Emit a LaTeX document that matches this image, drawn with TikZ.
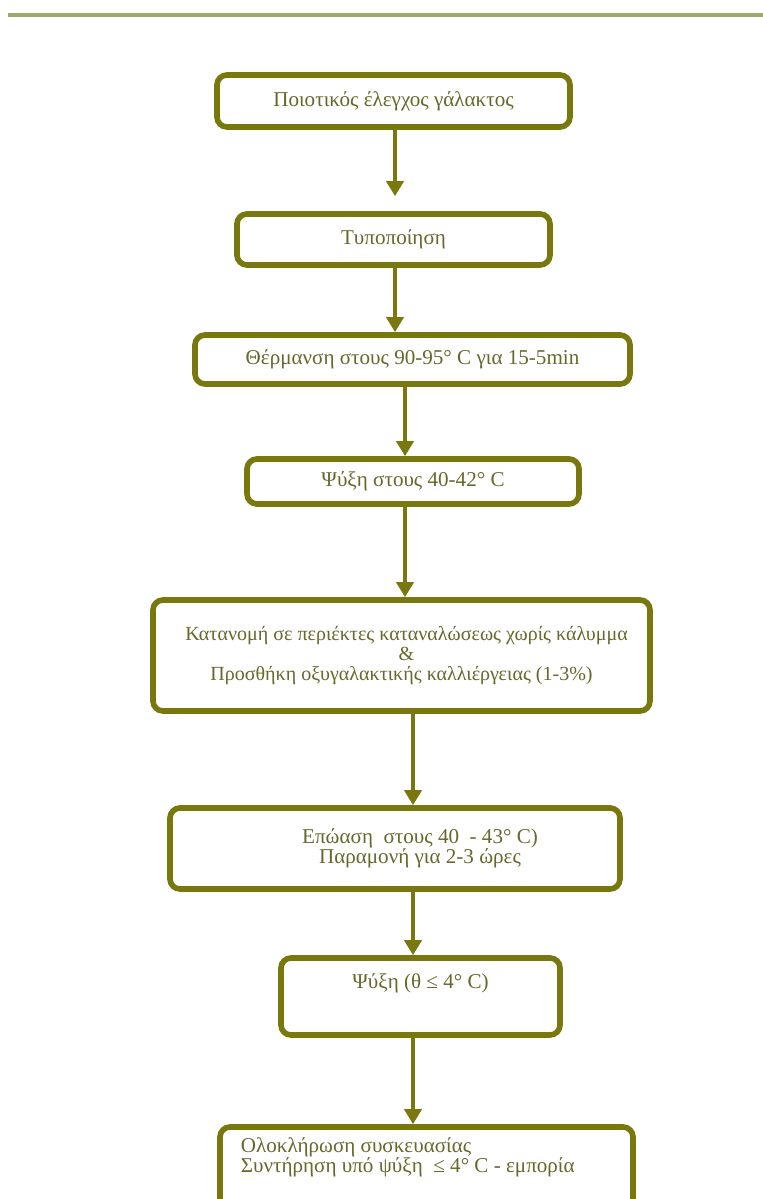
\documentclass[tikz,border=0pt]{standalone}
\usepackage{fontspec}
\setmainfont{Liberation Serif}
\usetikzlibrary{arrows.meta}
\definecolor{olivebox}{RGB}{120,120,14}
\definecolor{olivetext}{RGB}{104,104,44}
\definecolor{oliverule}{RGB}{156,172,104}

\begin{document}
\begin{tikzpicture}[
    stage/.style={draw=olivebox, line width=1.6pt, rounded corners=0.1cm, fill=white,
        text=olivetext, align=center, font=\fontsize{6}{5.7}\selectfont, inner sep=0pt},
    flow/.style={draw=olivebox, line width=1.05pt, -{Triangle[width=0.17cm,length=0.15cm]}}
]
    \fill[white] (0,0) rectangle (7.63,-11.99);
    \useasboundingbox (0,0) rectangle (7.63,-11.99);
    % rule at the top of the page
    \draw[oliverule, line width=0.9pt] (0.08,-0.15) -- (7.63,-0.15);

    % the stages, top to bottom
    \node[stage, minimum width=3.53cm, minimum height=0.52cm] (s1) at (3.935,-1.01) {Ποιοτικός έλεγχος γάλακτος};
    \node[stage, minimum width=3.13cm, minimum height=0.51cm] (s2) at (3.935,-2.395) {Τυποποίηση};
    \node[stage, minimum width=4.35cm, minimum height=0.49cm] (s3) at (4.125,-3.595) {Θέρμανση στους 90-95° C για 15-5min};
    \node[stage, minimum width=3.32cm, minimum height=0.45cm] (s4) at (4.13,-4.815) {Ψύξη στους 40-42° C};
    \node[stage, minimum width=4.97cm, minimum height=1.11cm, font=\fontsize{5.7}{5.7}\selectfont] (s5) at (4.015,-6.555)
        {\hspace{0.1cm}Κατανομή σε περιέκτες καταναλώσεως χωρίς κάλυμμα\\ \hspace{0.1cm}\&\\ Προσθήκη οξυγαλακτικής καλλιέργειας (1-3\%)};
    \node[stage, minimum width=4.5cm, minimum height=0.81cm] (s6) at (3.95,-8.485)
        {\hspace{0.5cm}Επώαση\ \ στους 40\ \ - 43° C)\\ \hspace{0.5cm}Παραμονή για 2-3 ώρες};
    \node[stage, minimum width=2.79cm, minimum height=0.77cm] (s7) at (4.205,-9.965) {Ψύξη (θ ≤ 4° C)\\[0.1cm]};
    \node[stage, minimum width=4.13cm, minimum height=0.88cm] (s8) at (4.265,-11.71) {};
    \node[text=olivetext, align=left, font=\fontsize{6}{5.7}\selectfont, inner sep=0pt, anchor=north west]
        (t8) at ([xshift=0.23cm,yshift=-0.13cm]s8.north west)
        {Ολοκλήρωση συσκευασίας\\ Συντήρηση υπό ψύξη\ \ ≤ 4° C - εμπορία};

    % arrows between the stages
    \draw[flow] ([xshift=0.015cm]s1.south) -- ([xshift=0.015cm,yshift=0.15cm]s2.north);
    \draw[flow] ([xshift=0.015cm]s2.south) -- ([xshift=-0.175cm]s3.north);
    \draw[flow] ([xshift=-0.075cm]s3.south) -- ([xshift=-0.08cm]s4.north);
    \draw[flow] ([xshift=-0.08cm]s4.south) -- ([xshift=0.035cm]s5.north);
    \draw[flow] ([xshift=0.115cm]s5.south) -- ([xshift=0.18cm]s6.north);
    \draw[flow] ([xshift=0.18cm]s6.south) -- ([xshift=-0.075cm]s7.north);
    \draw[flow] ([xshift=-0.075cm]s7.south) -- ([xshift=-0.135cm]s8.north);
\end{tikzpicture}
\end{document}
